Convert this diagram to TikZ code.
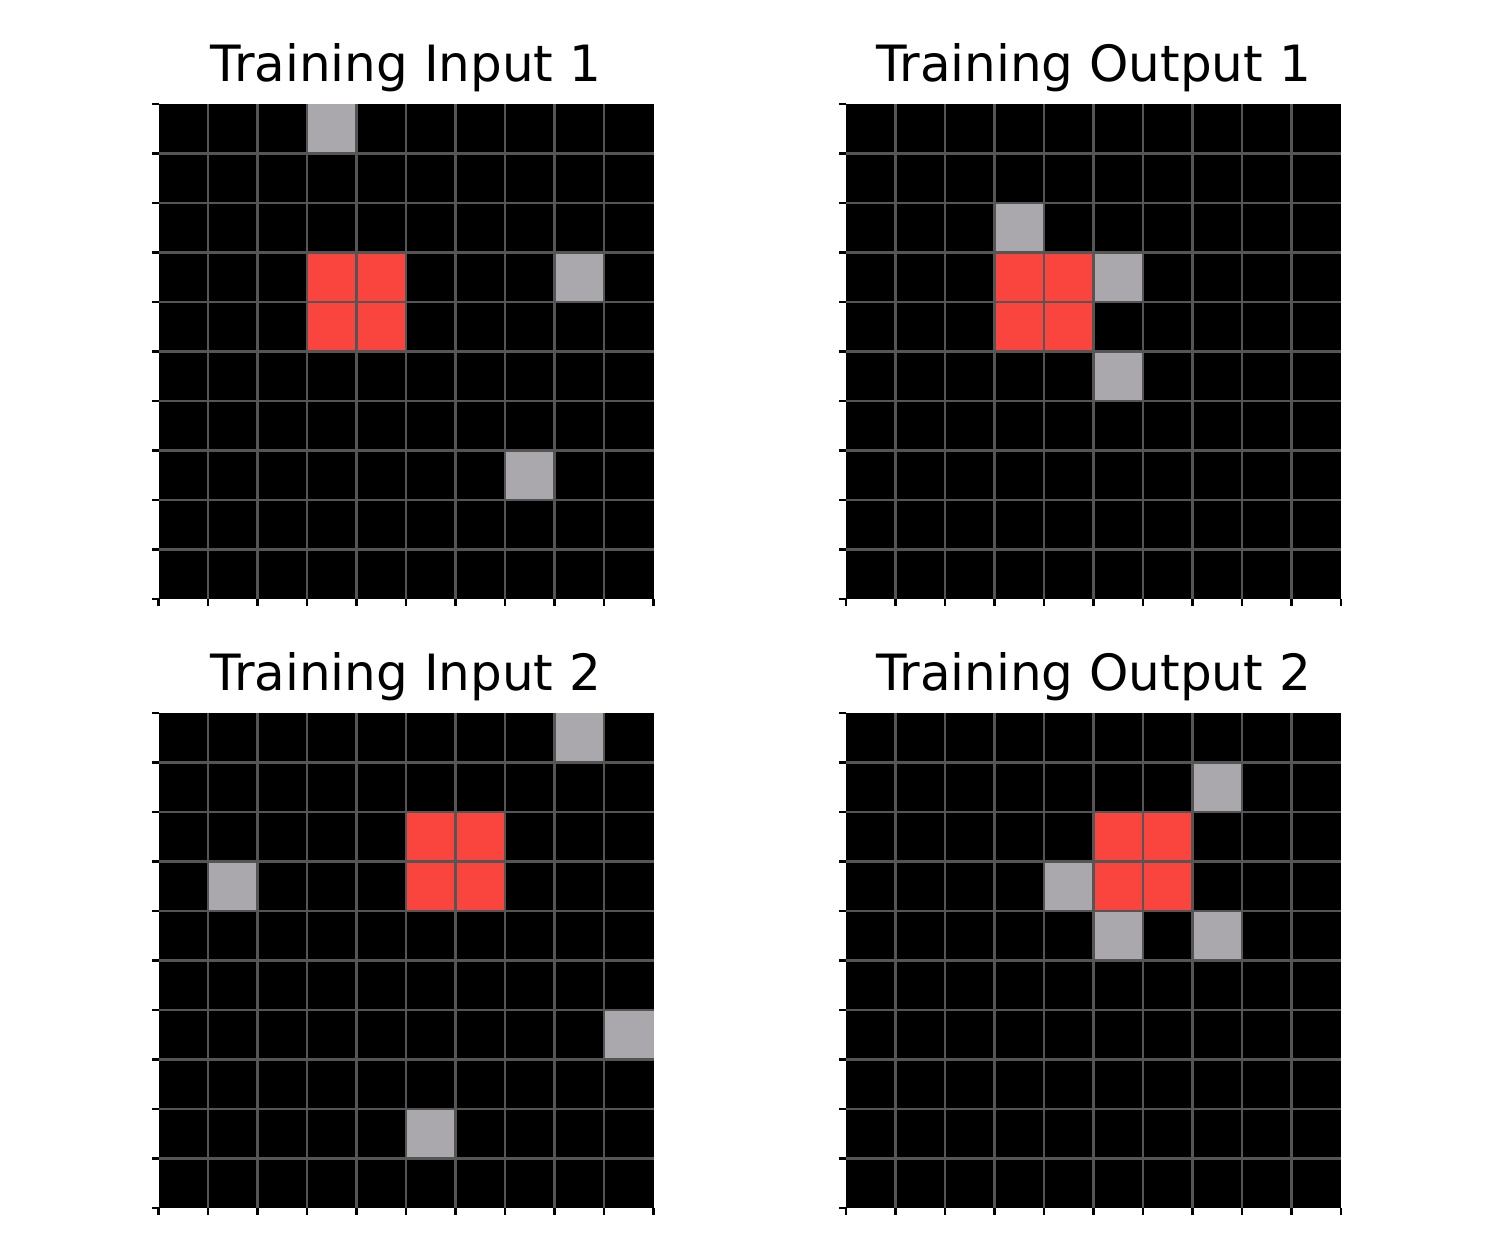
\documentclass[tikz,border=0pt]{standalone}
\usepackage{fontspec}
\setmainfont{DejaVu Sans}
\definecolor{arcred}{RGB}{250,68,62}
\definecolor{arcgray}{RGB}{170,168,172}
\definecolor{gridline}{RGB}{85,85,85}
\newcommand{\cellsz}{49.5}
\tikzset{
  paneltitle/.style={anchor=base, inner sep=0pt, font=\fontsize{12}{14}\selectfont},
  gridstroke/.style={draw=gridline, line width=0.5pt},
  tickstroke/.style={draw=black, line width=0.5pt}
}
\begin{document}
\begin{tikzpicture}[x=0.24pt, y=-0.24pt, line cap=butt]
	\useasboundingbox (0,0) rectangle (1500,1259);
	% one panel per line: corner, name, title, red block, gray cells (col/row)
	\foreach \px/\py/\pname/\ptitle/\rc/\rr/\grays in {
		158.5/104/in1/{Training Input 1}/3/3/{3/0,8/3,7/7},
		846/104/out1/{Training Output 1}/3/3/{3/2,5/3,5/5},
		158.5/713/in2/{Training Input 2}/5/2/{8/0,1/3,9/6,5/8},
		846/713/out2/{Training Output 2}/5/2/{7/1,4/3,5/4,7/4}}{
		\begin{scope}[shift={(\px,\py)}]
			\fill[black] (0,0) rectangle ({10*\cellsz},{10*\cellsz});
			\fill[arcred] ({\rc*\cellsz},{\rr*\cellsz}) rectangle +({2*\cellsz},{2*\cellsz});
			\foreach \gc/\gr in \grays
				\fill[arcgray] ({\gc*\cellsz},{\gr*\cellsz}) rectangle +(\cellsz,\cellsz);
			\foreach \k in {1,...,9}{
				\draw[gridstroke] ({\k*\cellsz},0) -- ({\k*\cellsz},{10*\cellsz});
				\draw[gridstroke] (0,{\k*\cellsz}) -- ({10*\cellsz},{\k*\cellsz});
			}
			\foreach \k in {0,...,10}{
				\draw[tickstroke] (0,{\k*\cellsz}) -- ++(-7,0);
				\draw[tickstroke] ({\k*\cellsz},{10*\cellsz}) -- ++(0,7);
			}
			\node[paneltitle] (\pname) at ({5*\cellsz},-23) {\ptitle};
		\end{scope}
	}
\end{tikzpicture}
\end{document}
